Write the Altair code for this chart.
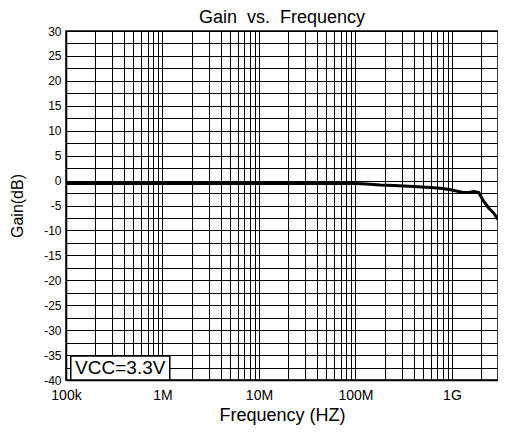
import altair as alt
import pandas as pd

# Curve data
freq_hz = [1e5, 1e6, 1e7, 1e8, 1.3e8, 1.8e8, 2.5e8, 4e8, 6e8, 8e8, 1e9,
           1.3e9, 1.5e9, 1.7e9, 1.9e9, 2.1e9, 2.4e9, 2.7e9, 3e9]
gain_db = [-0.6, -0.6, -0.6, -0.6, -0.7, -0.9, -1.0, -1.2, -1.4, -1.6, -1.9,
           -2.4, -2.4, -2.2, -2.4, -4.0, -5.5, -6.5, -7.8]

# Axis ticks / labels
x_label_values = [1e5, 1e6, 1e7, 1e8, 1e9]
x_label_texts = ["100k", "1M", "10M", "100M", "1G"]
x_grid_values = [m * d for d in [1e5, 1e6, 1e7, 1e8, 1e9] for m in range(1, 10)
                 if m * d <= 3e9]
y_grid_values = [-40, -37.5, -35, -32.5, -30, -27.5, -25, -22.5, -20, -17.5,
                 -15, -12.5, -10, -7.5, -5, -2.5, 0, 2.5, 5, 7.5, 10, 12.5,
                 15, 17.5, 20, 22.5, 25, 27.5, 30]
annotation = "VCC=3.3V"

df = pd.DataFrame({"f": freq_hz, "g": gain_db})

label_expr = " : ".join(
    f"datum.value == {v} ? '{t}'" for v, t in zip(x_label_values, x_label_texts)
) + " : ''"

xscale = alt.Scale(type="log", domain=[1e5, 3e9], nice=False)
yscale = alt.Scale(domain=[-40, 30], nice=False, zero=False)

FONT = "Liberation Sans"

xaxis = alt.Axis(values=x_grid_values, labelExpr=label_expr,
                 title="Frequency (HZ)", ticks=False,
                 labelOverlap=False, labelFlush=False,
                 labelFontSize=14, titleFontSize=18,
                 labelPadding=8, titlePadding=4, grid=True)
yaxis = alt.Axis(values=y_grid_values,
                 labelExpr="datum.value % 5 == 0 ? '' + datum.value : ''",
                 title="Gain(dB)", ticks=False,
                 labelOverlap=False, labelFontSize=12,
                 titleFontSize=16, labelPadding=5, titlePadding=18, grid=True)

line = alt.Chart(df).mark_line(color="black", strokeWidth=3).encode(
    x=alt.X("f:Q", scale=xscale, axis=xaxis),
    y=alt.Y("g:Q", scale=yscale, axis=yaxis),
)

box = alt.Chart(pd.DataFrame({"t": [annotation]})).mark_rect(
    fill="white", stroke="black", strokeWidth=1.5
).encode(
    x=alt.XDatum(1.12e5, scale=xscale, axis=xaxis), x2=alt.X2Datum(1.19e6),
    y=alt.YDatum(-40, scale=yscale, axis=yaxis), y2=alt.Y2Datum(-35.2),
)

txt = alt.Chart(pd.DataFrame({"t": [annotation]})).mark_text(
    fontSize=19, font=FONT, color="black", baseline="middle", align="center"
).encode(
    x=alt.XDatum(3.65e5, scale=xscale, axis=xaxis),
    y=alt.YDatum(-37.6, scale=yscale, axis=yaxis),
    text="t:N",
)

chart = alt.layer(line, box, txt).properties(
    width=432, height=349,
    background="white",
    title=alt.TitleParams("Gain\u00a0 vs.\u00a0 Frequency", fontSize=18,
                          font=FONT, fontWeight="normal", offset=-2,
                          anchor="middle", color="black"),
    autosize=alt.AutoSizeParams(type="none"),
    padding={"left": 58, "top": 23, "right": 0, "bottom": 46},
).configure_view(
    stroke="black", strokeWidth=1.5
).configure_axis(
    gridColor="black", gridOpacity=1, gridWidth=1,
    domainColor="black", domainWidth=1.5,
    labelColor="black", titleColor="black",
    labelFont=FONT, titleFont=FONT, titleFontWeight="normal",
)

chart.save("out.html", embed_options={"renderer": "svg", "actions": False})
